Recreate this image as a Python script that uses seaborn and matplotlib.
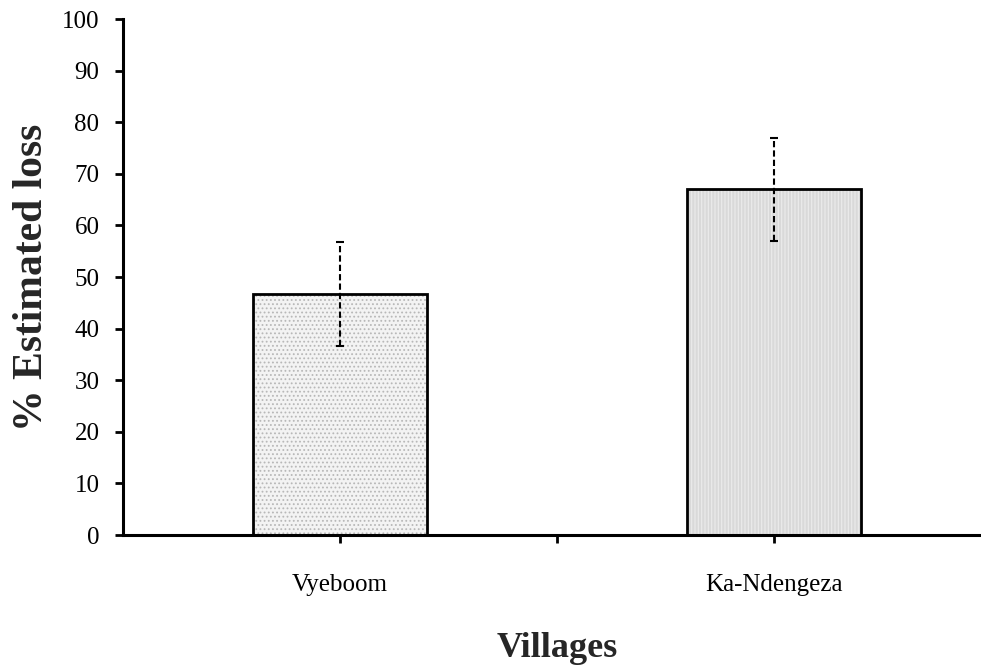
import matplotlib
matplotlib.use("Agg")
import matplotlib.pyplot as plt
import seaborn as sns
import pandas as pd

villages = ["Vyeboom", "Ka-Ndengeza"]
loss_mean = [46.7, 67]
loss_err = [10, 10]
y_ticks = list(range(0, 101, 10))

sns.set_style("white")
plt.rcParams["font.family"] = ["Liberation Serif", "DejaVu Serif"]
plt.rcParams["hatch.linewidth"] = 0.8

df = pd.DataFrame({"village": villages, "loss": loss_mean})

fig = plt.figure(figsize=(9.81, 6.68), dpi=100)
W, H = 981, 668
left, right, bottom, top = 123, 991, 535, 19
ax = fig.add_axes([left / W, (H - bottom) / H, (right - left) / W, (bottom - top) / H])

# filled, hatched bars (no outline)
sns.barplot(data=df, x="village", y="loss", ax=ax, width=0.40,
            palette=["#f3f3f3", "#d9d9d9"], hue="village", legend=False,
            edgecolor="#b5b5b5", linewidth=0, errorbar=None)
hatches = ["....", "|||||"]
hcols = ["#b8b8b8", "#ececec"]
for p, h, c in zip(ax.patches, hatches, hcols):
    p.set_hatch(h)
    p.set_edgecolor(c)
    p.set_linewidth(0)

# outlines
sns.barplot(data=df, x="village", y="loss", ax=ax, width=0.40, fill=False,
            color="black", edgecolor="black", linewidth=2.0, errorbar=None)

eb = ax.errorbar(x=list(range(len(villages))), y=loss_mean, yerr=loss_err,
                 fmt="none", ecolor="black", elinewidth=1.5, capsize=3,
                 capthick=1.5, zorder=5)
for lc in eb[2]:
    lc.set_linestyle((0, (3, 1.5)))

ax.set_xlim(-0.5, 1.5)
ax.set_ylim(0, 100)
ax.set_yticks(y_ticks)
ax.set_xticks([0, 0.5, 1])
ax.set_xticklabels([villages[0], "", villages[1]])

for s in ["top", "right"]:
    ax.spines[s].set_visible(False)
for s in ["left", "bottom"]:
    ax.spines[s].set_color("black")
    ax.spines[s].set_linewidth(2.2)

ax.tick_params(axis="y", direction="out", length=6, width=2, colors="black",
               labelsize=18, pad=11, left=True)
ax.tick_params(axis="x", direction="out", length=6, width=2, colors="black",
               labelsize=18, pad=22, bottom=True)

ax.set_xlabel("Villages", fontsize=26, fontweight="bold", labelpad=26)
ax.set_ylabel("% Estimated loss", fontsize=30, fontweight="bold", labelpad=8)

fig.savefig("out.png", dpi=100)
